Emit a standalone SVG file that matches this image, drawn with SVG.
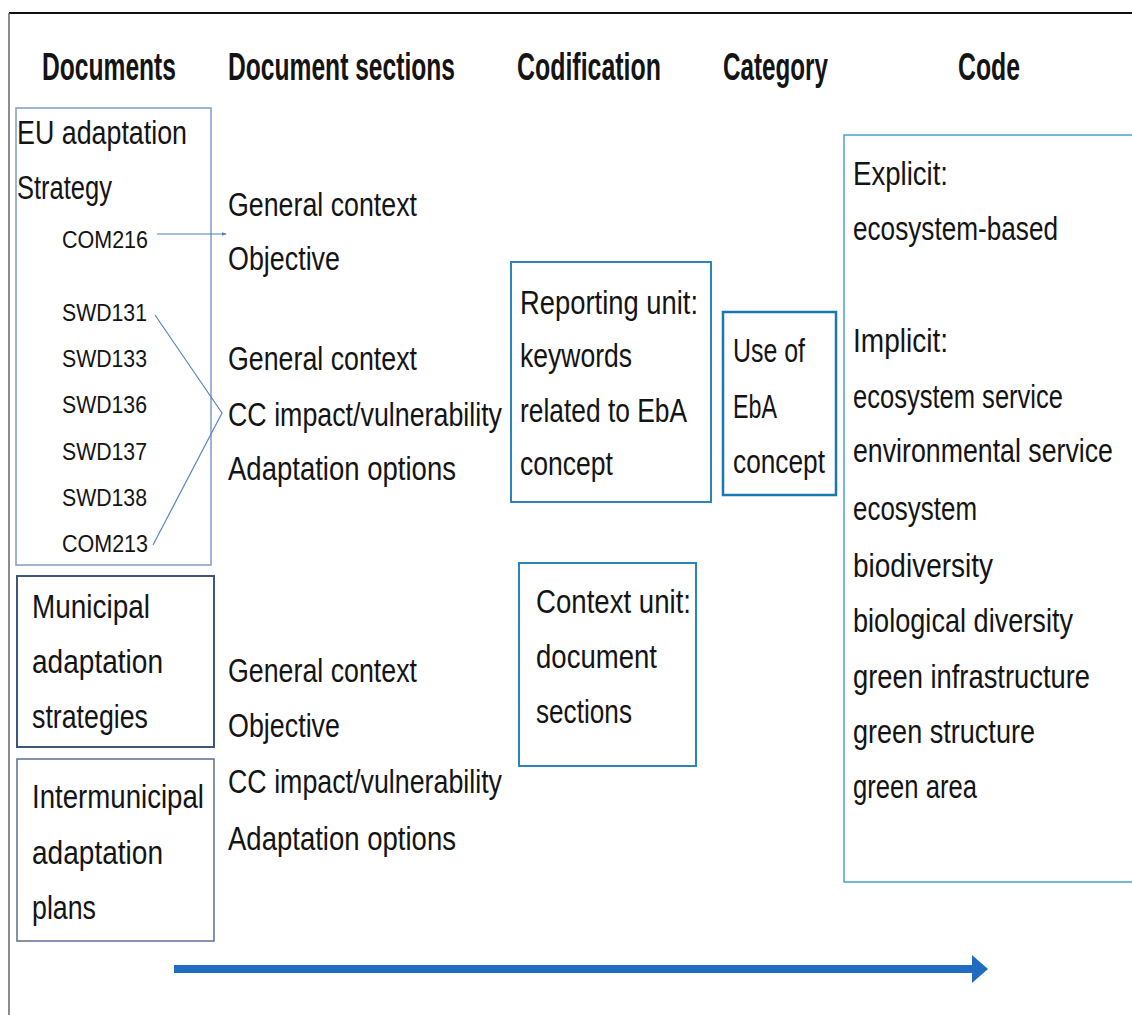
<svg xmlns="http://www.w3.org/2000/svg" width="1132" height="1015" viewBox="0 0 1132 1015">
<defs>
<style>
text{font-family:"Liberation Sans",Arial,sans-serif;fill:#141414}
.h{font-size:38px;font-weight:bold}
.b{font-size:34px}
.s{font-size:24px}
.box{fill:none}
</style>
<marker id="sm" viewBox="0 0 10 10" refX="9" refY="5" markerWidth="5" markerHeight="5" orient="auto" markerUnits="userSpaceOnUse"><path d="M0,1 L10,5 L0,9 z" fill="#4a7fc0"/></marker>
</defs>
<rect x="0" y="0" width="1132" height="1015" fill="#fff"/>
<g id="frame">
<line x1="9" y1="13" x2="1132" y2="13" stroke="#111" stroke-width="2"/>
<line x1="9" y1="13" x2="9" y2="1015" stroke="#666" stroke-width="1.5"/>
</g>
<g id="headers">
<g transform="scale(0.65,1)">
<text class="h" x="64.6" y="80" textLength="206.2" lengthAdjust="spacingAndGlyphs">Documents</text>
<text class="h" x="350.8" y="80" textLength="349.2" lengthAdjust="spacingAndGlyphs">Document sections</text>
<text class="h" x="795.4" y="80" textLength="221.5" lengthAdjust="spacingAndGlyphs">Codification</text>
<text class="h" x="1112.3" y="80" textLength="161.5" lengthAdjust="spacingAndGlyphs">Category</text>
<text class="h" x="1473.8" y="80" textLength="95.4" lengthAdjust="spacingAndGlyphs">Code</text>
</g>
</g>
<g id="eu-strategy">
<rect class="box" x="16" y="108" width="195" height="457" stroke="#7f9cc2" stroke-width="1.5"/>
<g transform="scale(0.79,1)">
<text class="b" x="21.52" y="144" textLength="215.19" lengthAdjust="spacingAndGlyphs">EU adaptation</text>
<text class="b" x="21.52" y="199" textLength="120.25" lengthAdjust="spacingAndGlyphs">Strategy</text>
</g>
<g transform="scale(0.89,1)">
<text class="s" x="69.66" y="248" textLength="96.63" lengthAdjust="spacingAndGlyphs">COM216</text>
<text class="s" x="69.66" y="321" textLength="95.51" lengthAdjust="spacingAndGlyphs">SWD131</text>
<text class="s" x="69.66" y="367" textLength="95.51" lengthAdjust="spacingAndGlyphs">SWD133</text>
<text class="s" x="69.66" y="413" textLength="95.51" lengthAdjust="spacingAndGlyphs">SWD136</text>
<text class="s" x="69.66" y="460" textLength="95.51" lengthAdjust="spacingAndGlyphs">SWD137</text>
<text class="s" x="69.66" y="506" textLength="95.51" lengthAdjust="spacingAndGlyphs">SWD138</text>
<text class="s" x="69.66" y="552" textLength="96.63" lengthAdjust="spacingAndGlyphs">COM213</text>
</g>
</g>
<g id="municipal">
<rect class="box" x="17" y="576" width="197" height="171" stroke="#3d5679" stroke-width="2"/>
<g transform="scale(0.79,1)">
<text class="b" x="40.51" y="618" textLength="149.37" lengthAdjust="spacingAndGlyphs">Municipal</text>
<text class="b" x="40.51" y="673" textLength="165.82" lengthAdjust="spacingAndGlyphs">adaptation</text>
<text class="b" x="40.51" y="728" textLength="146.84" lengthAdjust="spacingAndGlyphs">strategies</text>
</g>
</g>
<g id="intermunicipal">
<rect class="box" x="17" y="759" width="197" height="182" stroke="#5a6f90" stroke-width="1.5"/>
<g transform="scale(0.79,1)">
<text class="b" x="40.51" y="808" textLength="217.72" lengthAdjust="spacingAndGlyphs">Intermunicipal</text>
<text class="b" x="40.51" y="864" textLength="165.82" lengthAdjust="spacingAndGlyphs">adaptation</text>
<text class="b" x="40.51" y="919" textLength="81.01" lengthAdjust="spacingAndGlyphs">plans</text>
</g>
</g>
<g id="sections-eu-com">
<g transform="scale(0.79,1)">
<text class="b" x="288.61" y="216" textLength="239.24" lengthAdjust="spacingAndGlyphs">General context</text>
<text class="b" x="288.61" y="270" textLength="141.77" lengthAdjust="spacingAndGlyphs">Objective</text>
</g>
</g>
<g id="sections-eu-swd">
<g transform="scale(0.79,1)">
<text class="b" x="288.61" y="370" textLength="239.24" lengthAdjust="spacingAndGlyphs">General context</text>
<text class="b" x="288.61" y="426" textLength="346.84" lengthAdjust="spacingAndGlyphs">CC impact/vulnerability</text>
<text class="b" x="288.61" y="480" textLength="288.61" lengthAdjust="spacingAndGlyphs">Adaptation options</text>
</g>
</g>
<g id="sections-local">
<g transform="scale(0.79,1)">
<text class="b" x="288.61" y="682" textLength="239.24" lengthAdjust="spacingAndGlyphs">General context</text>
<text class="b" x="288.61" y="737" textLength="141.77" lengthAdjust="spacingAndGlyphs">Objective</text>
<text class="b" x="288.61" y="793" textLength="346.84" lengthAdjust="spacingAndGlyphs">CC impact/vulnerability</text>
<text class="b" x="288.61" y="850" textLength="288.61" lengthAdjust="spacingAndGlyphs">Adaptation options</text>
</g>
</g>
<g id="reporting-unit">
<rect class="box" x="511" y="262" width="200" height="240" stroke="#2a86b8" stroke-width="2"/>
<g transform="scale(0.79,1)">
<text class="b" x="658.23" y="314" textLength="225.32" lengthAdjust="spacingAndGlyphs">Reporting unit:</text>
<text class="b" x="658.23" y="367" textLength="141.77" lengthAdjust="spacingAndGlyphs">keywords</text>
<text class="b" x="658.23" y="422" textLength="211.39" lengthAdjust="spacingAndGlyphs">related to EbA</text>
<text class="b" x="658.23" y="475" textLength="117.72" lengthAdjust="spacingAndGlyphs">concept</text>
</g>
</g>
<g id="context-unit">
<rect class="box" x="519" y="563" width="177" height="203" stroke="#2a86b8" stroke-width="2"/>
<g transform="scale(0.79,1)">
<text class="b" x="678.48" y="613" textLength="196.2" lengthAdjust="spacingAndGlyphs">Context unit:</text>
<text class="b" x="678.48" y="668" textLength="153.16" lengthAdjust="spacingAndGlyphs">document</text>
<text class="b" x="678.48" y="723" textLength="121.52" lengthAdjust="spacingAndGlyphs">sections</text>
</g>
</g>
<g id="category">
<rect class="box" x="723" y="312" width="113" height="183" stroke="#1a78b0" stroke-width="2.5"/>
<g transform="scale(0.79,1)">
<text class="b" x="927.85" y="362" textLength="91.14" lengthAdjust="spacingAndGlyphs">Use of</text>
<text class="b" x="927.85" y="418" textLength="55.7" lengthAdjust="spacingAndGlyphs">EbA</text>
<text class="b" x="927.85" y="473" textLength="116.46" lengthAdjust="spacingAndGlyphs">concept</text>
</g>
</g>
<g id="code">
<rect class="box" x="844" y="135" width="300" height="747" stroke="#4aa3c4" stroke-width="1.5"/>
<g transform="scale(0.79,1)">
<text class="b" x="1079.75" y="185" textLength="120.25" lengthAdjust="spacingAndGlyphs">Explicit:</text>
<text class="b" x="1079.75" y="240" textLength="259.49" lengthAdjust="spacingAndGlyphs">ecosystem-based</text>
<text class="b" x="1079.75" y="352" textLength="120.25" lengthAdjust="spacingAndGlyphs">Implicit:</text>
<text class="b" x="1079.75" y="408" textLength="265.82" lengthAdjust="spacingAndGlyphs">ecosystem service</text>
<text class="b" x="1079.75" y="462" textLength="329.11" lengthAdjust="spacingAndGlyphs">environmental service</text>
<text class="b" x="1079.75" y="520" textLength="156.96" lengthAdjust="spacingAndGlyphs">ecosystem</text>
<text class="b" x="1079.75" y="577" textLength="177.22" lengthAdjust="spacingAndGlyphs">biodiversity</text>
<text class="b" x="1079.75" y="632" textLength="278.48" lengthAdjust="spacingAndGlyphs">biological diversity</text>
<text class="b" x="1079.75" y="688" textLength="300" lengthAdjust="spacingAndGlyphs">green infrastructure</text>
<text class="b" x="1079.75" y="743" textLength="230.38" lengthAdjust="spacingAndGlyphs">green structure</text>
<text class="b" x="1079.75" y="798" textLength="156.96" lengthAdjust="spacingAndGlyphs">green area</text>
</g>
</g>
<g id="connectors">
<line x1="157" y1="234" x2="226" y2="234" stroke="#4a7fc0" stroke-width="1.2" marker-end="url(#sm)"/>
<polyline points="155,315 222,413 153,545" fill="none" stroke="#5a86c4" stroke-width="1.2"/>
<line x1="174" y1="969" x2="974" y2="969" stroke="#1f6cc0" stroke-width="8"/>
<polygon points="972,955 988,969 972,983" fill="#1f6cc0"/>
</g>
</svg>
